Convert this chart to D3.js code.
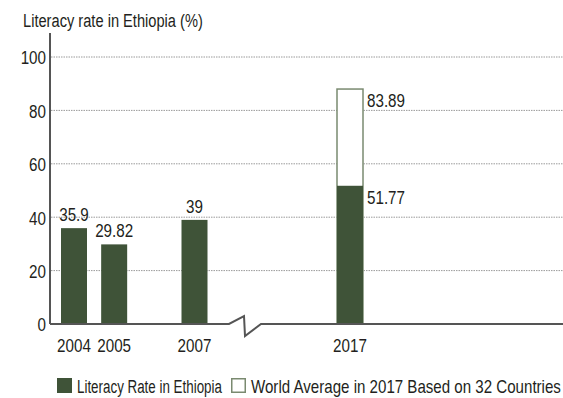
<!DOCTYPE html>
<html><head><meta charset="utf-8">
<script src="https://cdn.jsdelivr.net/npm/d3@7"></script>
<style>
html,body{margin:0;padding:0;background:#fff;}
svg{display:block;}
text{font-family:"Liberation Sans","Arial",sans-serif;fill:#231f20;}
</style></head>
<body>
<svg id="chart" width="563" height="398"></svg>
<script>
const years = [2004, 2005, 2007, 2017];
const literacyValues = [35.9, 29.82, 39, 51.77];
const literacyLabels = ["35.9", "29.82", "39", "51.77"];
const worldYears = [2017];
const worldValues = [88];
const worldLabels = ["83.89"];
const yTicks = [0, 20, 40, 60, 80, 100];
const legendLabels = ["Literacy Rate in Ethiopia", "World Average in 2017 Based on 32 Countries"];
const title = "Literacy rate in Ethiopia (%)";

const darkGreen = "#3f5338";
const outlineGreen = "#7a8a70";
const FS = 19;

// horizontally condense text (narrow typeface look) using a transform
function squeeze(sel, f) {
  sel.each(function () {
    const t = d3.select(this);
    const x = +t.attr("x") || 0, y = +t.attr("y") || 0;
    t.attr("x", 0).attr("y", 0).attr("transform", `translate(${x},${y}) scale(${f},1)`);
  });
}
function fitWidth(sel, w) {
  sel.each(function () {
    const len = this.getComputedTextLength();
    d3.select(this).call(squeeze, w / len);
  });
}

const svg = d3.select("#chart");
const x = d3.scaleLinear().domain([2004, 2007, 2017]).range([74, 194.5, 350]);
const y = d3.scaleLinear().domain([0, 100]).range([324, 57]);
const bw = 26;

// title
svg.append("text").attr("x", 23).attr("y", 27).attr("font-size", FS)
  .text(title).call(fitWidth, 180);

// gridlines
svg.append("g").selectAll("line").data(yTicks.filter(d => d > 0)).join("line")
  .attr("x1", 51).attr("x2", 563).attr("y1", d => y(d)).attr("y2", d => y(d))
  .attr("stroke", "#9a9a9a").attr("stroke-width", 1).attr("stroke-dasharray", "1.5,1");

// y axis
const yAxis = d3.axisLeft(y).tickValues(yTicks).tickSize(0).tickPadding(4).tickFormat(d3.format("d"));
const gy = svg.append("g").attr("transform", "translate(50,0)").call(yAxis);
gy.select(".domain").remove();
gy.selectAll("text").attr("font-size", FS).attr("font-family", null).attr("fill", "#231f20")
  .attr("dy", "0.36em").call(squeeze, 0.8);
svg.append("line").attr("x1", 50).attr("x2", 50).attr("y1", 33).attr("y2", y(0))
  .attr("stroke", "#555").attr("stroke-width", 2);

// world average outline bar
svg.append("g").selectAll("rect").data(worldYears).join("rect")
  .attr("x", (d) => x(d) - bw / 2).attr("width", bw)
  .attr("y", (d, i) => y(worldValues[i])).attr("height", (d, i) => y(0) - y(worldValues[i]))
  .attr("fill", "#fff").attr("stroke", outlineGreen).attr("stroke-width", 1.5);

// literacy bars
svg.append("g").selectAll("rect").data(years).join("rect")
  .attr("x", d => x(d) - bw / 2).attr("width", bw)
  .attr("y", (d, i) => y(literacyValues[i])).attr("height", (d, i) => y(0) - y(literacyValues[i]))
  .attr("fill", darkGreen);

// baseline with axis break
const breakPts = [[50, y(0)], [229, y(0)], [244, y(0) - 8], [245, y(0) + 12], [261, y(0)], [563, y(0)]];
svg.append("path").attr("d", d3.line()(breakPts)).attr("fill", "none")
  .attr("stroke", "#555").attr("stroke-width", 2);

// x labels
svg.append("g").selectAll("text").data(years).join("text")
  .attr("x", d => x(d)).attr("y", 352).attr("text-anchor", "middle").attr("font-size", FS)
  .text(d => d).call(squeeze, 0.8);

// value labels
svg.append("g").selectAll("text").data(years).join("text")
  .attr("x", (d, i) => d === 2017 ? x(d) + bw / 2 + 4 : x(d))
  .attr("y", (d, i) => d === 2017 ? y(literacyValues[i]) + 18 : y(literacyValues[i]) - 7)
  .attr("text-anchor", d => d === 2017 ? "start" : "middle").attr("font-size", FS)
  .text((d, i) => literacyLabels[i]).call(squeeze, 0.8);
svg.append("g").selectAll("text").data(worldYears).join("text")
  .attr("x", d => x(d) + bw / 2 + 4).attr("y", (d, i) => y(worldValues[i]) + 18)
  .attr("font-size", FS).text((d, i) => worldLabels[i]).call(squeeze, 0.8);

// legend
const lg = svg.append("g");
lg.append("rect").attr("x", 57).attr("y", 378).attr("width", 15).attr("height", 15).attr("fill", darkGreen);
lg.append("text").attr("x", 77).attr("y", 393).attr("font-size", FS).text(legendLabels[0]).call(fitWidth, 145);
lg.append("rect").attr("x", 231.75).attr("y", 378.75).attr("width", 13.5).attr("height", 13.5)
  .attr("fill", "#fff").attr("stroke", outlineGreen).attr("stroke-width", 1.5);
lg.append("text").attr("x", 251).attr("y", 393).attr("font-size", FS).text(legendLabels[1]).call(fitWidth, 310);
</script>
</body></html>
